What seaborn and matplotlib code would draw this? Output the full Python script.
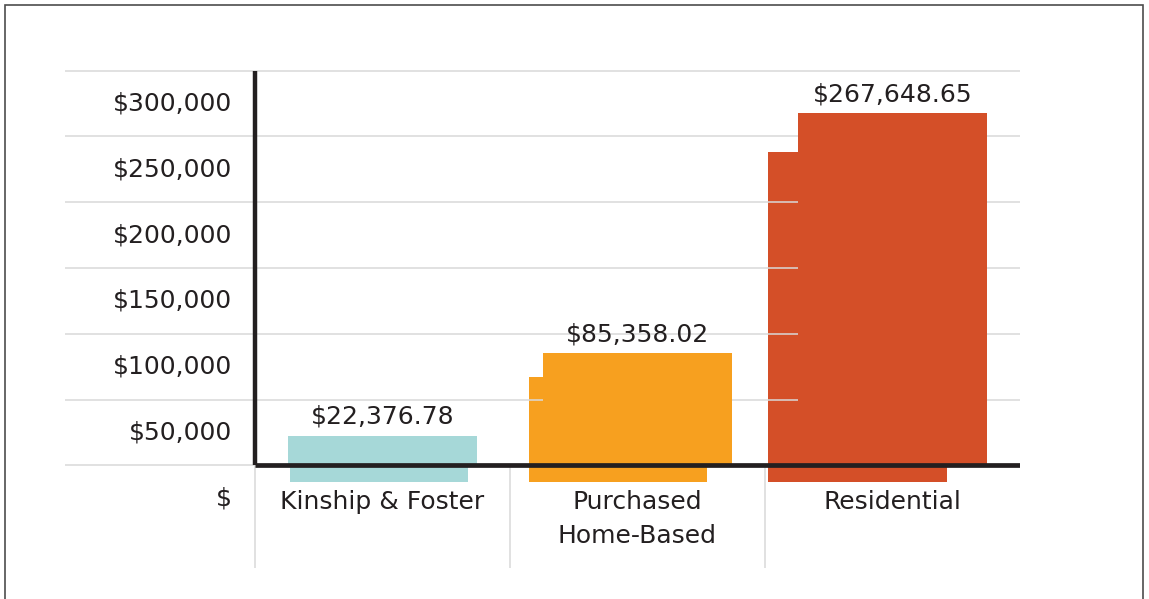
import matplotlib
matplotlib.use('Agg')
import matplotlib.pyplot as plt
import seaborn as sns
import pandas as pd
from matplotlib.patches import Rectangle

# chart data
categories = ['Kinship & Foster', 'Purchased\nHome-Based', 'Residential']
costs = [22376.78, 85358.02, 267648.65]
bar_colors = ['#a6d8d8', '#f7a01f', '#d44f28']
grid_values = [0, 50000, 100000, 150000, 200000, 250000, 300000]
tick_labels = ['$', '$50,000', '$100,000', '$150,000', '$200,000', '$250,000', '$300,000']

TEXT = '#231f20'
GRID = '#d9d9d9'
W, H = 1149, 599

sns.set_theme(style='white')
plt.rcParams['font.family'] = ['DejaVu Sans']

df = pd.DataFrame({'category': categories, 'cost': costs})
palette = dict(zip(categories, bar_colors))

fig = plt.figure(figsize=(W / 100, H / 100), dpi=100)

# main axes box in pixels (left, right, top, bottom)
L, R, T, B = 65, 1020, 70, 568
# offset "ghost" copy of the bars, slightly scaled
s, dx, dy = 0.938, 20.4, 45.8
gL, gR, gT, gB = s * L + dx, s * R + dx, s * T + dy, s * B + dy

ax_ghost = fig.add_axes([gL / W, (H - gB) / H, (gR - gL) / W, (gB - gT) / H])
ax = fig.add_axes([L / W, (H - B) / H, (R - L) / W, (B - T) / H])
ax_ghost.set_zorder(0)
ax.set_zorder(1)
ax.patch.set_visible(False)

xlim = (-0.5 - 190 / 255, 2.5)
ylim = (-78000, 300500)

for a in (ax_ghost, ax):
    sns.barplot(data=df, x='category', y='cost', hue='category', palette=palette,
                width=0.745, saturation=1, legend=False, linewidth=0, ax=a)
    a.set_xlim(*xlim)
    a.set_ylim(*ylim)
    a.set_xlabel('')
    a.set_ylabel('')
    for sp in a.spines.values():
        sp.set_visible(False)
    a.tick_params(labelbottom=False, labelleft=False, length=0)

ax_ghost.axis('off')

# horizontal gridlines
ax.set_yticks(grid_values)
ax.set_axisbelow(True)
ax.grid(axis='y', color=GRID, linewidth=1.1)
ax.grid(axis='x', visible=False)

# thick axis lines
ax.vlines(-0.5, 0, grid_values[-1], color=TEXT, linewidth=3.2, zorder=5)
ax.hlines(0, -0.5, 2.5, color=TEXT, linewidth=3.4, zorder=5)

# column separators below the baseline
ax.vlines([-0.5, 0.5, 1.5], ylim[0], 0, color=GRID, linewidth=1.1, zorder=2)

# y labels sit between gridlines
for v, lab in zip(grid_values, tick_labels):
    ax.text(-0.59, v - 25000, lab, ha='right', va='center', fontsize=18, color=TEXT)

# category labels
for i, cat in enumerate(categories):
    ax.text(i, -18500, cat, ha='center', va='top', fontsize=18, color=TEXT,
            linespacing=1.55)

# value labels
for c in ax.containers:
    ax.bar_label(c, labels=[f'${b.get_height():,.2f}' for b in c], padding=5,
                 fontsize=18, color=TEXT)

# outer frame
fig.add_artist(Rectangle((5 / W, -0.02), (1143 - 5) / W, (H - 5) / H + 0.02,
                         transform=fig.transFigure, fill=False,
                         edgecolor='#4d4d4d', linewidth=1.2))

fig.savefig('out.png', dpi=100)
